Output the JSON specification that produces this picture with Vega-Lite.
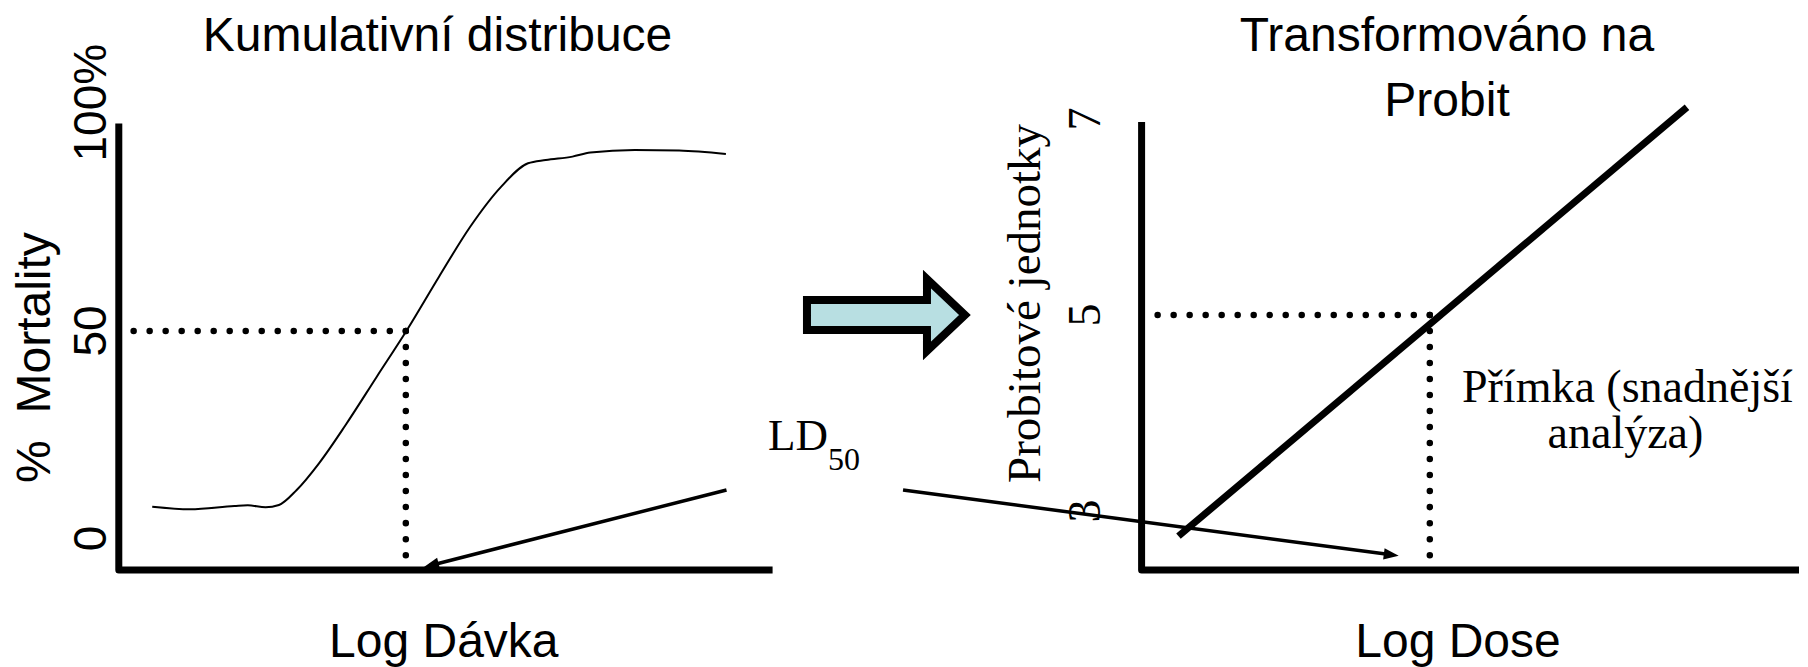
{
  "$schema": "https://vega.github.io/schema/vega-lite/v6.json",
  "width": 1808,
  "height": 667,
  "autosize": "none",
  "padding": 0,
  "background": "white",
  "config": {"view": {"stroke": null}},
  "layer": [
    {
      "encoding": {
        "x": {"field": "dose", "type": "quantitative", "scale": {"domain": [-1.8171, 25.8372], "nice": false, "zero": false}, "axis": null},
        "y": {"field": "mortality", "type": "quantitative", "scale": {"domain": [-30.964, 129.759], "nice": false, "zero": false}, "axis": null}
      },
      "layer": [
        {
          "data": {"values": [
            {"dose": 0.511, "mortality": 7.66},
            {"dose": 1.089, "mortality": 7.04},
            {"dose": 1.768, "mortality": 7.83},
            {"dose": 1.973, "mortality": 8.0},
            {"dose": 2.245, "mortality": 7.52},
            {"dose": 2.449, "mortality": 8.07},
            {"dose": 2.721, "mortality": 11.69},
            {"dose": 3.062, "mortality": 18.12},
            {"dose": 3.469, "mortality": 27.35},
            {"dose": 3.946, "mortality": 38.99},
            {"dose": 4.408, "mortality": 50.24},
            {"dose": 4.898, "mortality": 63.08},
            {"dose": 5.375, "mortality": 75.13},
            {"dose": 5.85, "mortality": 84.8},
            {"dose": 6.259, "mortality": 90.41},
            {"dose": 6.531, "mortality": 91.2},
            {"dose": 6.939, "mortality": 92.02},
            {"dose": 7.212, "mortality": 92.99},
            {"dose": 7.891, "mortality": 93.61},
            {"dose": 8.571, "mortality": 93.47},
            {"dose": 9.286, "mortality": 92.65}
          ]},
          "mark": {"type": "line", "color": "black", "strokeWidth": 2, "interpolate": "monotone"}
        },
        {
          "data": {"values": [
            {"dose": 0, "mortality": 100, "o": 1},
            {"dose": 0, "mortality": -7.59, "o": 2},
            {"dose": 10, "mortality": -7.59, "o": 3}
          ]},
          "mark": {"type": "line", "color": "black", "strokeWidth": 7, "strokeJoin": "round", "strokeCap": "butt"},
          "encoding": {"order": {"field": "o", "type": "quantitative"}}
        },
        {
          "data": {"values": [
            {"dose": 4.39, "mortality": 50, "seg": "h", "o": 1},
            {"dose": 0.15, "mortality": 50, "seg": "h", "o": 2},
            {"dose": 4.39, "mortality": 50, "seg": "v", "o": 1},
            {"dose": 4.39, "mortality": -4.6, "seg": "v", "o": 2}
          ]},
          "mark": {"type": "line", "color": "black", "strokeWidth": 6.5, "strokeCap": "round", "strokeDash": [0.01, 16]},
          "encoding": {"detail": {"field": "seg"}, "order": {"field": "o", "type": "quantitative"}}
        },
        {
          "data": {"values": [
            {"dose": 9.295, "mortality": 11.69, "o": 1},
            {"dose": 4.75, "mortality": -6.55, "o": 2}
          ]},
          "mark": {"type": "line", "color": "black", "strokeWidth": 3.5},
          "encoding": {"order": {"field": "o", "type": "quantitative"}}
        },
        {
          "data": {"values": [{"dose": 4.668, "mortality": -6.87}]},
          "mark": {"type": "point", "shape": "M0,0 L-1,-0.38 L-1,0.38 Z", "size": 900, "angle": 165.7, "filled": true, "fill": "black", "stroke": null, "opacity": 1}
        },
        {
          "data": {"values": [{"dose": 11.719, "mortality": 53.86}]},
          "mark": {"type": "point", "shape": "M-0.78,-0.15 L0.42,-0.15 L0.42,-0.36 L0.8,0 L0.42,0.36 L0.42,0.15 L-0.78,0.15 Z", "size": 40000, "filled": true, "fill": "#b8dfe2", "stroke": "black", "strokeWidth": 8, "strokeJoin": "miter", "strokeMiterLimit": 10, "opacity": 1}
        },
        {
          "data": {"values": [
            {"text": "Kumulativní distribuce", "dose": 4.875, "mortality": 117.47},
            {"text": "Log Dávka", "dose": 4.971, "mortality": -28.55}
          ]},
          "mark": {"type": "text", "font": "Liberation Sans", "fontSize": 48, "align": "center", "baseline": "alphabetic", "color": "black"},
          "encoding": {"text": {"field": "text"}}
        },
        {
          "data": {"values": [{"text": "%\u00a0 Mortality", "dose": -1.052, "mortality": 43.61}]},
          "mark": {"type": "text", "font": "Liberation Sans", "fontSize": 48, "angle": 270, "align": "center", "baseline": "alphabetic", "color": "black"},
          "encoding": {"text": {"field": "text"}}
        },
        {
          "data": {"values": [
            {"text": "0", "dose": -0.196, "mortality": 0},
            {"text": "50", "dose": -0.196, "mortality": 50}
          ]},
          "mark": {"type": "text", "font": "Liberation Sans", "fontSize": 46, "angle": 270, "align": "center", "baseline": "alphabetic", "color": "black"},
          "encoding": {"text": {"field": "text"}}
        },
        {
          "data": {"values": [{"text": "100%", "dose": -0.196, "mortality": 100}]},
          "mark": {"type": "text", "font": "Liberation Sans", "fontSize": 46, "angle": 270, "align": "left", "dx": -38, "baseline": "alphabetic", "color": "black"},
          "encoding": {"text": {"field": "text"}}
        },
        {
          "data": {"values": [{"text": "LD", "dose": 9.929, "mortality": 21.33}]},
          "mark": {"type": "text", "font": "Liberation Serif", "fontSize": 45, "align": "left", "baseline": "alphabetic", "color": "black"},
          "encoding": {"text": {"field": "text"}}
        },
        {
          "data": {"values": [{"text": "50", "dose": 10.847, "mortality": 16.51}]},
          "mark": {"type": "text", "font": "Liberation Serif", "fontSize": 32, "align": "left", "baseline": "alphabetic", "color": "black"},
          "encoding": {"text": {"field": "text"}}
        }
      ]
    },
    {
      "encoding": {
        "x": {"field": "dose", "type": "quantitative", "scale": {"domain": [-17.3654, 10.1369], "nice": false, "zero": false}, "axis": null},
        "y": {"field": "probit", "type": "quantitative", "scale": {"domain": [1.40816, 8.21429], "nice": false, "zero": false}, "axis": null}
      },
      "layer": [
        {
          "data": {"values": [
            {"dose": 0.561, "probit": 2.743},
            {"dose": 8.296, "probit": 7.12}
          ]},
          "mark": {"type": "line", "color": "black", "strokeWidth": 7}
        },
        {
          "data": {"values": [
            {"dose": 0, "probit": 6.97, "o": 1},
            {"dose": 0, "probit": 2.398, "o": 2},
            {"dose": 10, "probit": 2.398, "o": 3}
          ]},
          "mark": {"type": "line", "color": "black", "strokeWidth": 7, "strokeJoin": "round", "strokeCap": "butt"},
          "encoding": {"order": {"field": "o", "type": "quantitative"}}
        },
        {
          "data": {"values": [
            {"dose": 4.384, "probit": 5, "seg": "h", "o": 1},
            {"dose": 0.2, "probit": 5, "seg": "h", "o": 2},
            {"dose": 4.384, "probit": 5, "seg": "v", "o": 1},
            {"dose": 4.384, "probit": 2.52, "seg": "v", "o": 2}
          ]},
          "mark": {"type": "line", "color": "black", "strokeWidth": 6.5, "strokeCap": "round", "strokeDash": [0.01, 16]},
          "encoding": {"detail": {"field": "seg"}, "order": {"field": "o", "type": "quantitative"}}
        },
        {
          "data": {"values": [
            {"dose": -3.629, "probit": 3.214, "o": 1},
            {"dose": 3.8, "probit": 2.553, "o": 2}
          ]},
          "mark": {"type": "line", "color": "black", "strokeWidth": 3.5},
          "encoding": {"order": {"field": "o", "type": "quantitative"}}
        },
        {
          "data": {"values": [{"dose": 3.911, "probit": 2.543}]},
          "mark": {"type": "point", "shape": "M0,0 L-1,-0.38 L-1,0.38 Z", "size": 900, "angle": 7.56, "filled": true, "fill": "black", "stroke": null, "opacity": 1}
        },
        {
          "data": {"values": [
            {"text": "Transformováno na", "dose": 4.646, "probit": 7.694},
            {"text": "Probit", "dose": 4.646, "probit": 7.031},
            {"text": "Log Dose", "dose": 4.813, "probit": 1.51}
          ]},
          "mark": {"type": "text", "font": "Liberation Sans", "fontSize": 48, "align": "center", "baseline": "alphabetic", "color": "black"},
          "encoding": {"text": {"field": "text"}}
        },
        {
          "data": {"values": [{"text": "Probitové jednotky", "dose": -1.545, "probit": 5.118}]},
          "mark": {"type": "text", "font": "Liberation Serif", "fontSize": 47, "angle": 270, "align": "center", "baseline": "alphabetic", "color": "black"},
          "encoding": {"text": {"field": "text"}}
        },
        {
          "data": {"values": [
            {"text": "7", "dose": -0.633, "probit": 7},
            {"text": "5", "dose": -0.633, "probit": 5},
            {"text": "3", "dose": -0.633, "probit": 3}
          ]},
          "mark": {"type": "text", "font": "Liberation Serif", "fontSize": 46, "angle": 270, "align": "center", "baseline": "alphabetic", "color": "black"},
          "encoding": {"text": {"field": "text"}}
        },
        {
          "data": {"values": [
            {"text": "Přímka (snadnější", "dose": 7.39, "probit": 4.112},
            {"text": "analýza)", "dose": 7.36, "probit": 3.643}
          ]},
          "mark": {"type": "text", "font": "Liberation Serif", "fontSize": 46, "align": "center", "baseline": "alphabetic", "color": "black"},
          "encoding": {"text": {"field": "text"}}
        }
      ]
    }
  ],
  "resolve": {"scale": {"x": "independent", "y": "independent"}}
}
